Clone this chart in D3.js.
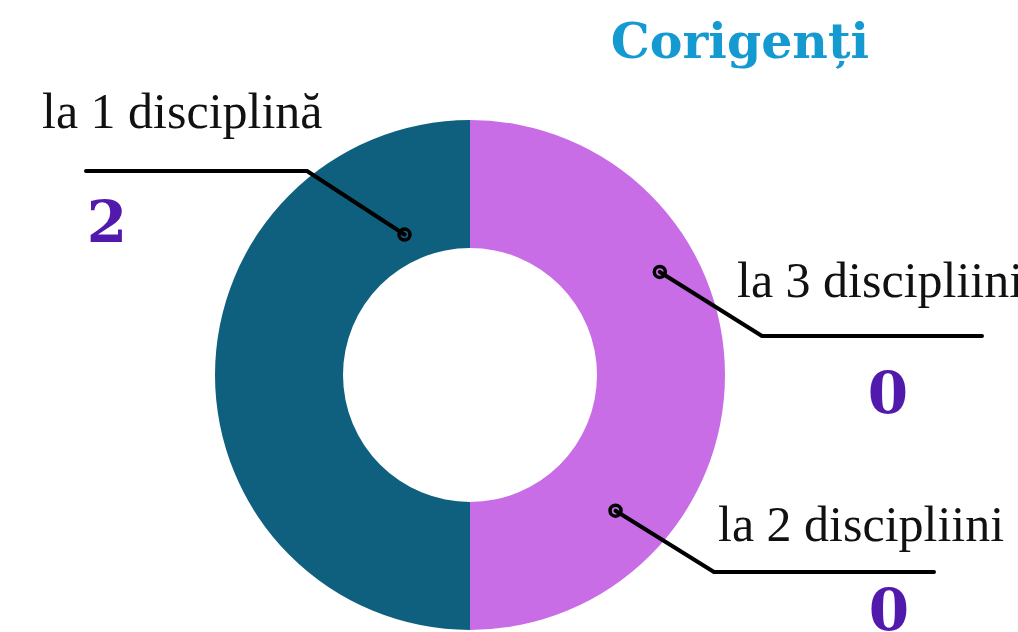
<!DOCTYPE html>
<html lang="ro">
<head>
  <meta charset="UTF-8">
  <title>Corigenți</title>
  <script src="https://d3js.org/d3.v7.min.js"></script>
  <style>
    body { margin: 0; background: #fff; }
    .title { font: bold 49px "DejaVu Serif", serif; fill: #149ad0; }
    .label { font: 50px "Liberation Serif", serif; fill: #111; }
    .value { font: bold 58px "DejaVu Serif", serif; fill: #5219ad; }
    .leader { fill: none; stroke: #000; stroke-width: 4; stroke-linecap: round; stroke-linejoin: round; }
    .dot { fill: none; stroke: #000; stroke-width: 3.5; }
  </style>
</head>
<body>
  <svg width="1018" height="632"></svg>

  <script>
    // data
    const title = "Corigenți";
    const categories = ["la 1 disciplină", "la 3 discipliini", "la 2 discipliini"];
    const values = [2, 0, 0];

    // the ring as drawn: left half teal, right half violet
    const ringParts = ["la 1 disciplină", "rest"];
    const ringShares = [50, 50];
    const ringColors = ["#0e607e", "#c86de6"];

    // where each callout sits (angle in degrees from 12 o'clock, radius in px)
    const callouts = [
      { angle: 335, r: 155, elbow: [307, 171], end: [86, 171],  text: [42, 128],  num: [107, 242] },
      { angle: 61.5, r: 216, elbow: [762, 336], end: [982, 336], text: [737, 297], num: [888, 413] },
      { angle: 133, r: 199, elbow: [714, 572], end: [934, 572], text: [718, 541], num: [889, 630] }
    ];

    const svg = d3.select("svg");
    const cx = 470, cy = 375;
    const outerR = 255, innerR = 127;

    const pie = d3.pie()
      .sort(null)
      .value(d => d)
      .startAngle(Math.PI)
      .endAngle(3 * Math.PI);

    const arc = d3.arc().innerRadius(innerR).outerRadius(outerR);

    const g = svg.append("g").attr("transform", `translate(${cx},${cy})`);

    g.selectAll("path")
      .data(pie(ringShares))
      .enter().append("path")
      .attr("d", arc)
      .attr("fill", (d, i) => ringColors[i]);

    svg.append("text")
      .attr("class", "title")
      .attr("x", 740)
      .attr("y", 58)
      .attr("text-anchor", "middle")
      .text(title);

    const angleToPoint = (deg, r) => {
      const a = deg * Math.PI / 180;
      return [cx + r * Math.sin(a), cy - r * Math.cos(a)];
    };

    categories.forEach((cat, i) => {
      const c = callouts[i];
      const p = angleToPoint(c.angle, c.r);

      svg.append("path")
        .attr("class", "leader")
        .attr("d", d3.line()([p, c.elbow, c.end]));

      svg.append("circle")
        .attr("class", "dot")
        .attr("cx", p[0])
        .attr("cy", p[1])
        .attr("r", 5.5);

      svg.append("text")
        .attr("class", "label")
        .attr("x", c.text[0])
        .attr("y", c.text[1])
        .text(cat);

      svg.append("text")
        .attr("class", "value")
        .attr("x", c.num[0])
        .attr("y", c.num[1])
        .attr("text-anchor", "middle")
        .text(values[i]);
    });
  </script>
</body>
</html>
